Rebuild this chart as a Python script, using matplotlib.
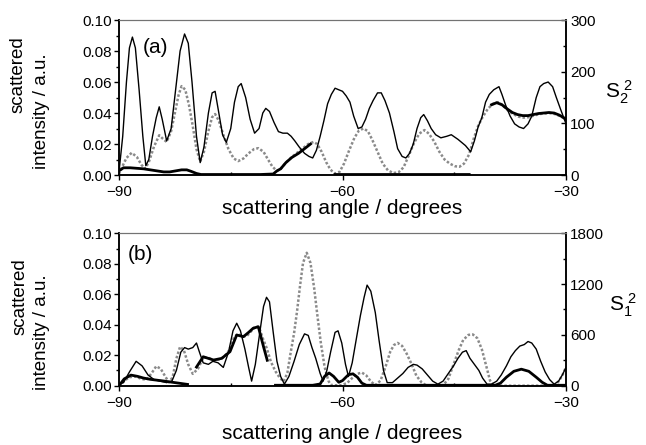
import numpy as np
import matplotlib.pyplot as plt
from matplotlib.ticker import MultipleLocator

plt.rcParams['font.family'] = ['Liberation Sans', 'DejaVu Sans']

nan = np.nan

# ---- panel (a): measured intensity (left axis)
ang_a = [-90.0, -89.5, -89.0, -88.6, -88.2, -87.8, -87.3, -86.8, -86.4, -86.0,
         -85.5, -85.0, -84.6, -84.2, -83.6, -83.0, -82.4, -81.8, -81.2, -80.7,
         -80.2, -79.6, -79.1, -78.6, -78.0, -77.5, -77.1, -76.6, -76.1, -75.6,
         -75.0, -74.5, -74.0, -73.6, -73.0, -72.4, -71.8, -71.2, -70.7, -70.3,
         -69.8, -69.2, -68.6, -68.0, -67.4, -66.9, -66.4, -65.8, -65.1, -64.5,
         -64.0, -63.5, -63.0, -62.5, -62.0, -61.5, -61.0, -60.5, -60.0, -59.5,
         -59.0, -58.5, -57.9, -57.4, -56.9, -56.4, -55.9, -55.3, -54.8, -54.3,
         -53.7, -53.1, -52.6, -52.0, -51.5, -51.0, -50.5, -50.0, -49.5, -49.1,
         -48.6, -48.1, -47.5, -46.8, -46.0, -45.4, -44.5, -43.5, -42.8, -42.3,
         -41.8, -41.3, -40.8, -40.3, -39.7, -39.0, -38.6, -38.1, -37.5, -36.9,
         -36.3, -35.7, -35.1, -34.6, -34.0, -33.5, -33.0, -32.4, -31.8, -31.3,
         -30.7, -30.0]
exp_a = [0.002, 0.025, 0.060, 0.082, 0.089, 0.082, 0.055, 0.025, 0.006, 0.010,
         0.025, 0.037, 0.044, 0.036, 0.022, 0.030, 0.055, 0.080, 0.091, 0.085,
         0.060, 0.025, 0.008, 0.018, 0.040, 0.053, 0.054, 0.040, 0.026, 0.021,
         0.030, 0.047, 0.057, 0.059, 0.050, 0.036, 0.027, 0.030, 0.040, 0.043,
         0.041, 0.034, 0.028, 0.027, 0.027, 0.025, 0.022, 0.018, 0.014, 0.012,
         0.011, 0.016, 0.025, 0.035, 0.046, 0.052, 0.056, 0.055, 0.054, 0.051,
         0.047, 0.038, 0.030, 0.031, 0.036, 0.043, 0.048, 0.053, 0.053, 0.048,
         0.040, 0.028, 0.017, 0.012, 0.011, 0.014, 0.020, 0.030, 0.037, 0.039,
         0.035, 0.030, 0.026, 0.024, 0.025, 0.026, 0.023, 0.019, 0.015, 0.022,
         0.031, 0.037, 0.047, 0.052, 0.055, 0.057, 0.052, 0.045, 0.038, 0.033,
         0.031, 0.030, 0.033, 0.038, 0.050, 0.057, 0.059, 0.060, 0.057, 0.050,
         0.042, 0.033]

# ---- panel (a): S2^2 (right axis, dotted grey)
ang_a_s = [-90.0, -89.6, -89.0, -88.3, -87.6, -87.0, -86.5, -86.0, -85.3, -84.6,
           -84.1, -83.6, -83.0, -82.5, -82.0, -81.6, -81.1, -80.6, -80.1, -79.6,
           -79.1, -78.6, -78.0, -77.5, -77.1, -76.6, -76.0, -75.3, -74.6, -74.0,
           -73.3, -72.6, -71.9, -71.3, -70.6, -70.0, -69.4, -68.8, -68.3, -67.6,
           -66.8, -66.0, -65.3, -64.6, -63.9, -63.4, -62.8, -62.2, -61.6, -61.0,
           -60.4, -59.8, -59.1, -58.4, -57.8, -57.2, -56.6, -56.0, -55.3, -54.6,
           -53.9, -53.2, -52.5, -51.8, -51.1, -50.4, -49.7, -49.0, -48.4, -47.7,
           -47.0, -46.3, -45.6, -44.9, -44.3, -43.7, -43.0, -42.4, -41.8, -41.2,
           -40.5, -39.8, -39.1, -38.5, -37.8, -37.1, -36.4, -35.7, -35.0, -34.3,
           -33.6, -32.9, -32.2, -31.5, -30.8, -30.0]
s2_a = [2, 15, 33, 43, 35, 20, 12, 25, 55, 77,
        70, 64, 85, 120, 155, 172, 165, 135, 95, 50,
        26, 45, 85, 112, 118, 105, 78, 50, 32, 27,
        32, 42, 50, 52, 45, 30, 16, 8, 12, 24,
        35, 44, 52, 60, 64, 60, 45, 25, 10, 3,
        6, 22, 48, 72, 86, 90, 85, 68, 45, 22,
        9, 4, 5, 15, 38, 62, 80, 87, 80, 65,
        45, 30, 22, 17, 16, 22, 40, 70, 95, 112,
        128, 138, 141, 135, 125, 118, 113, 111, 112, 115,
        118, 119, 120, 118, 114, 108]

# ---- panel (a): thick black curve (right axis)
ang_a_t = [-90.0, -89.4, -88.5, -87.6, -86.7, -85.8, -84.9, -84.0, -83.2, -82.4,
           -81.6, -80.9, -80.3, -79.6, -79.0, -75.0, -71.0, -69.3, -68.8, -68.3,
           -67.6, -66.8, -65.9, -65.0, -64.3, -63.9, -61.0, -58.0, -52.0, -47.0,
           -43.0, -41.0, -40.0, -39.3, -38.6, -37.9, -37.2, -36.5, -35.8, -35.1,
           -34.4, -33.7, -33.0, -32.3, -31.6, -30.9, -30.2, -30.0]
thick_a = [8, 14, 14, 13, 12, 10, 8, 6, 6, 8,
           10, 10, 7, 3, 1, 1, 1, 2, 8, 12,
           24, 34, 42, 52, 60, nan, 1, 1, 1, 1,
           1, nan, 136, 140, 136, 128, 121, 117, 115, 115,
           117, 119, 120, 121, 120, 116, 110, 106]

# ---- panel (b): measured intensity (left axis)
ang_b = [-90.0, -89.4, -88.6, -87.7, -86.9, -86.1, -85.3, -84.5, -83.6, -82.9,
         -82.3, -81.7, -81.2, -80.7, -80.1, -79.6, -79.2, -78.7, -78.0, -77.4,
         -76.7, -76.0, -75.3, -74.7, -74.2, -73.7, -73.1, -72.6, -72.2, -71.7,
         -71.1, -70.6, -70.2, -69.8, -69.3, -68.8, -68.3, -67.8, -67.2, -66.5,
         -65.8, -65.1, -64.6, -64.1, -63.6, -63.0, -62.6, -62.1, -61.6, -61.0,
         -60.6, -60.1, -59.6, -59.2, -58.7, -58.1, -57.6, -57.1, -56.7, -56.2,
         -55.6, -55.1, -54.5, -54.0, -53.3, -52.6, -51.9, -51.2, -50.5, -50.0,
         -49.3, -48.6, -47.9, -47.2, -46.5, -45.8, -45.1, -44.5, -43.9, -43.4,
         -42.9, -42.3, -41.7, -41.2, -40.6, -40.0, -39.3, -38.7, -38.0, -37.4,
         -36.8, -36.2, -35.6, -35.1, -34.6, -34.0, -33.4, -32.8, -32.2, -31.6,
         -31.0, -30.5, -30.0]
exp_b = [0.001, 0.002, 0.009, 0.016, 0.013, 0.007, 0.004, 0.003, 0.002, 0.003,
         0.010, 0.022, 0.025, 0.024, 0.025, 0.028, 0.022, 0.015, 0.014, 0.016,
         0.015, 0.012, 0.022, 0.036, 0.041, 0.036, 0.024, 0.012, 0.003, 0.014,
         0.035, 0.052, 0.058, 0.055, 0.035, 0.016, 0.006, 0.001, 0.006, 0.016,
         0.027, 0.034, 0.033, 0.025, 0.018, 0.008, 0.003, 0.010, 0.022, 0.035,
         0.036, 0.028, 0.014, 0.006, 0.015, 0.032, 0.046, 0.058, 0.066, 0.062,
         0.048, 0.030, 0.010, 0.002, 0.002, 0.005, 0.008, 0.012, 0.014, 0.0135,
         0.011, 0.007, 0.003, 0.001, 0.003, 0.008, 0.013, 0.018, 0.022, 0.023,
         0.018, 0.014, 0.010, 0.005, 0.001, 0.001, 0.003, 0.007, 0.013, 0.019,
         0.023, 0.026, 0.027, 0.029, 0.028, 0.024, 0.016, 0.009, 0.004, 0.001,
         0.003, 0.007, 0.012]

# ---- panel (b): S1^2 (right axis, dotted grey)
ang_b_s = [-90.0, -89.4, -88.6, -87.8, -87.0, -86.3, -85.6, -85.0, -84.4, -83.8,
           -83.3, -82.8, -82.3, -81.8, -81.3, -80.7, -80.1, -79.4, -78.7, -78.0,
           -77.3, -76.6, -75.9, -75.2, -74.6, -74.1, -73.5, -72.9, -72.3, -71.7,
           -71.2, -70.7, -70.2, -69.6, -69.0, -68.4, -67.9, -67.4, -67.0, -66.5,
           -66.1, -65.7, -65.3, -64.8, -64.3, -63.8, -63.4, -62.9, -62.4, -61.9,
           -61.6, -61.0, -60.2, -59.4, -58.7, -58.0, -57.4, -56.8, -56.2, -55.6,
           -54.9, -54.2, -53.6, -53.1, -52.6, -52.0, -51.4, -50.7, -50.1, -49.4,
           -48.8, -48.0, -47.2, -46.5, -45.8, -45.1, -44.4, -43.8, -43.1, -42.5,
           -41.9, -41.3, -40.7, -40.2, -39.7, -39.0, -35.0, -32.0, -31.5, -31.0,
           -30.5, -30.0]
s1_b = [0, 50, 100, 110, 80, 70, 150, 230, 200, 110,
        40, 100, 320, 460, 420, 250, 140, 200, 330, 330,
        300, 310, 340, 420, 560, 610, 590, 580, 640, 700,
        690, 560, 450, 280, 170, 90, 50, 150, 370, 620,
        880, 1180, 1450, 1570, 1450, 1150, 850, 500, 220, 60,
        10, 5, 5, 30, 90, 140, 155, 120, 50, 5,
        60, 230, 400, 480, 505, 470, 380, 250, 120, 40,
        5, 0, 0, 5, 80, 250, 420, 540, 600, 605,
        560, 430, 230, 60, 5, 0, 0, 0, 5, 50,
        120, 220]

# ---- panel (b): thick black curve (right axis)
ang_b_t = [-90.0, -89.3, -88.4, -87.5, -86.7, -85.8, -84.9, -84.0, -83.2, -82.4,
           -81.6, -80.8, -80.4, -79.6, -78.7, -77.3, -76.2, -75.1, -74.2, -73.3,
           -72.6, -72.0, -71.3, -70.6, -70.1, -69.6, -69.0, -64.0, -63.0, -62.4,
           -61.8, -61.2, -60.5, -60.0, -59.2, -58.6, -58.0, -57.4, -56.8, -50.0,
           -39.5, -38.8, -38.0, -37.0, -36.0, -35.0, -34.0, -33.2, -32.5, -30.0]
thick_b = [0, 80, 125, 110, 90, 75, 65, 55, 45, 35,
           25, 15, nan, 220, 342, 303, 323, 402, 599, 579,
           630, 678, 697, 460, 300, nan, 5, 5, 20, 110,
           150, 110, 40, 60, 130, 140, 100, 30, 5, 5,
           5, 30, 100, 170, 195, 170, 100, 40, 5, 5]

grey = '#8a8a8a'


def style_axes(ax, axr, ymax_r, major_r, label_pad):
    ax.set_xlim(-90, -30)
    ax.set_ylim(0, 0.10)
    axr.set_ylim(0, ymax_r)
    ax.xaxis.set_major_locator(MultipleLocator(30))
    ax.xaxis.set_minor_locator(MultipleLocator(15))
    ax.yaxis.set_major_locator(MultipleLocator(0.02))
    ax.yaxis.set_minor_locator(MultipleLocator(0.01))
    ax.yaxis.set_major_formatter(plt.FormatStrFormatter('%.2f'))
    axr.yaxis.set_major_locator(MultipleLocator(major_r))
    axr.yaxis.set_minor_locator(MultipleLocator(major_r / 2))
    ax.tick_params(axis='both', which='both', direction='out', labelsize=11,
                   width=1, pad=1.5)
    ax.tick_params(axis='x', pad=4)
    ax.tick_params(which='major', length=3.5)
    ax.tick_params(which='minor', length=2.5)
    ax.tick_params(axis='x', which='minor', direction='in')
    axr.tick_params(axis='y', which='both', direction='in', labelsize=11,
                    width=1, pad=3)
    axr.tick_params(which='major', length=3.5)
    axr.tick_params(which='minor', length=2.5)
    for a in (ax, axr):
        for s in ('left', 'right', 'bottom'):
            a.spines[s].set_linewidth(1.1)
        a.spines['top'].set_linewidth(0.8)
        a.spines['top'].set_color('0.45')
    ax.set_xlabel('scattering angle / degrees', fontsize=15, labelpad=label_pad)


fig = plt.figure(figsize=(6.46, 4.45), dpi=100)
fig.patch.set_facecolor('white')
W, H = 646.0, 445.0

# panel (a)
ax1 = fig.add_axes([0.1842, 0.6067, 0.6920, 0.3483])
ax1r = ax1.twinx()
ax1r.plot(ang_a_s, s2_a, color=grey, lw=1.8, ls=(0, (1, 0.8)))
ax1r.plot(ang_a_t, thick_a, color='black', lw=2.0)
ax1.plot(ang_a, exp_a, color='black', lw=1.0)
ax1.set_zorder(ax1r.get_zorder() + 1)
ax1.patch.set_visible(False)
style_axes(ax1, ax1r, 300, 100, 0)
ax1.text(0.054, 0.79, '(a)', transform=ax1.transAxes, fontsize=15,
         va='baseline')
fig.text(18 / W, 1 - 75 / H, 'scattered', fontsize=13.5, rotation=90,
         ha='center', va='center')
fig.text(41 / W, 1 - 111 / H, 'intensity / a.u.', fontsize=13.5, rotation=90,
         ha='center', va='center')
fig.text(0.958, 1 - 92 / H, r'$\mathregular{S_2^{\ 2}}$', fontsize=15,
         ha='center', va='center')

# panel (b)
ax2 = fig.add_axes([0.1842, 0.1333, 0.6920, 0.3424])
ax2r = ax2.twinx()
ax2r.plot(ang_b_s, s1_b, color=grey, lw=1.8, ls=(0, (1, 0.8)))
ax2r.plot(ang_b_t, thick_b, color='black', lw=2.0)
ax2.plot(ang_b, exp_b, color='black', lw=1.0)
ax2.set_zorder(ax2r.get_zorder() + 1)
ax2.patch.set_visible(False)
style_axes(ax2, ax2r, 1800, 600, 10)
ax2.text(0.02, 0.825, '(b)', transform=ax2.transAxes, fontsize=15,
         va='baseline')
fig.text(20 / W, 1 - 297 / H, 'scattered', fontsize=13.5, rotation=90,
         ha='center', va='center')
fig.text(41 / W, 1 - 332 / H, 'intensity / a.u.', fontsize=13.5, rotation=90,
         ha='center', va='center')
fig.text(0.965, 1 - 305 / H, r'$\mathregular{S_1^{\ 2}}$', fontsize=15,
         ha='center', va='center')

fig.savefig('out.png', dpi=100)
